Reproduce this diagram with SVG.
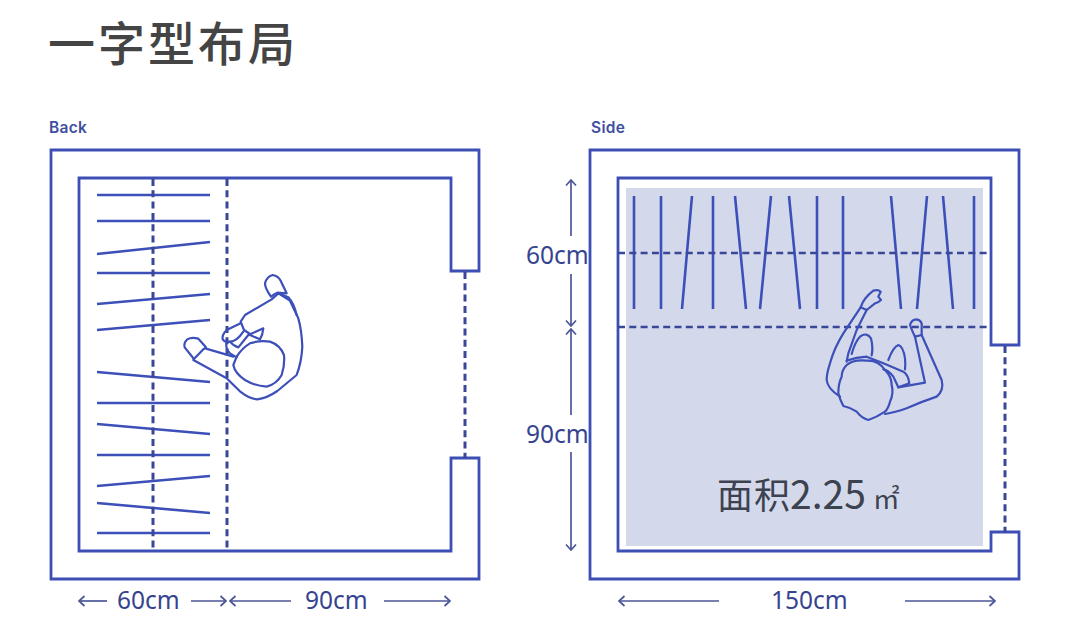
<svg xmlns="http://www.w3.org/2000/svg" width="1080" height="628" viewBox="0 0 1080 628">
<style>
.wall{fill:none;stroke:#3d4fb4;stroke-width:2.8;stroke-linejoin:miter}
.tile{fill:none;stroke:#3d4fb8;stroke-width:2.6;stroke-linecap:butt}
.dash{fill:none;stroke:#3a4799;stroke-width:3;stroke-dasharray:7 4.3}
.dashh{fill:none;stroke:#3a4799;stroke-width:2.4;stroke-dasharray:7 4.3}
.dim{fill:none;stroke:#4b5699;stroke-width:1.7;marker-end:url(#arr)}
.fig{fill:none;stroke:#3d4fb8;stroke-width:6.6;stroke-linejoin:round;stroke-linecap:round}
.lbl{font-family:"Noto Sans","Noto Sans CJK SC",sans-serif;font-size:24.5px;fill:#36448f}
.cap{font-family:Inter,"Liberation Sans",sans-serif;font-size:15.5px;font-weight:600;letter-spacing:.3px;fill:#3f4f9f}
</style>
<defs>
<marker id="arr" viewBox="0 0 10 12" refX="9" refY="6" markerWidth="10" markerHeight="12" markerUnits="userSpaceOnUse" orient="auto">
<path d="M3.5 1 L9 6 L3.5 11" fill="none" stroke="#4b5699" stroke-width="1.7"/>
</marker>
</defs>
<rect width="1080" height="628" fill="#fff"/>
<text x="48" y="61" font-family="'Noto Sans CJK SC',sans-serif" font-size="47" font-weight="500" letter-spacing="3" fill="#444">一字型布局</text>

<g id="back-plan">
<text class="cap" x="49" y="133">Back</text>
<path class="wall" d="M479 271V150H51V579H479V458H451V551H79V178H451V271Z"/>
<path class="tile" d="M97 195H210M97 221H210M97 254L210 242M97 273H210M97 304L210 294M97 330L210 320M97 372L210 382M97 403H210M97 424L210 434M97 455H210M97 486L210 476M97 503L210 513M97 533H210"/>
<path class="dash" d="M153 179V551M227 179V551M465 272V458"/>
<g id="person-back" class="fig" transform="translate(170 260) scale(.3333)">
<path d="M108 266L190 290M70 300L170 355Q190 375 212 396Q240 418 262 418Q290 415 322 393L380 345Q395 305 397 260Q395 210 385 175L360 122L325 100L305 118L225 165L212 185L222 210L240 222"/>
<path d="M72 297L100 268L108 262L85 236Q65 230 52 238Q40 250 44 262Z"/>
<path d="M200 290Q215 265 240 250Q270 240 300 245Q330 255 342 285Q345 315 335 345Q320 372 290 380Q255 378 225 360Q195 340 190 315Z"/>
<path d="M303 110Q285 85 285 70Q290 50 308 45Q325 48 332 62L350 100L322 98Q310 103 303 110Z"/>
<path d="M325 100L355 112Q372 130 380 165"/>
<path d="M212 190L170 210Q155 225 158 238Q165 248 180 245Q200 245 220 215"/>
<path d="M170 245Q165 265 180 280L200 292M180 245Q190 258 205 262L235 225L280 205Q278 225 270 238L240 225"/>
</g>
</g>

<g id="side-plan">
<text class="cap" x="591" y="133">Side</text>
<rect x="626" y="188" width="357" height="358" fill="#d3d9eb"/>
<path class="wall" d="M1019 345V150H590V579H1019V532H991V551H618V178H991V345Z"/>
<path class="tile" d="M634 196V309M661 196V309M692 196L682 309M713 196V309M735 196L746 309M771 196L760 309M789 196L800 309M817 196V309M843 196V309M891 196L901 309M927 196L917 309M943 196L953 309M974 196V309"/>
<path class="dashh" d="M618 253H991M618 327H991"/>
<path class="dash" d="M1005 346V532"/>
<g id="person-side" class="fig" transform="translate(810 280) scale(.3333)">
<path d="M152 82Q160 55 190 32Q205 28 212 35L205 50L213 60Q205 68 195 70L170 90Z"/>
<path d="M152 82L100 160Q72 205 60 250Q50 280 50 300Q52 325 90 350M170 90L140 150L115 220L110 245"/>
<path d="M110 255Q130 238 170 242Q205 240 225 270Q245 290 245 315Q252 340 240 365Q235 385 225 395Q200 412 175 420Q155 415 140 395Q120 382 100 378Q90 360 85 340Q85 310 95 290Q95 270 110 255Z"/>
<path d="M125 222Q135 185 150 170Q170 155 183 175Q190 205 185 226M235 240Q250 200 265 195Q280 200 285 235Q287 255 285 268"/>
<path d="M110 242Q140 232 170 230L220 250L280 275Q295 285 298 310L265 322L250 290Q235 270 220 268"/>
<path d="M265 322L345 308L315 170L335 165L395 300Q403 330 380 350Q335 365 290 385Q255 398 225 402"/>
<path d="M315 170Q305 150 300 135Q305 118 320 118Q338 122 335 140L335 165"/>
</g>
<text x="717" y="509" font-family="'Noto Sans CJK SC',sans-serif" font-size="36" letter-spacing="1" fill="#3c4250">面积<tspan font-size="39" letter-spacing="0" dx="-1">2.25</tspan><tspan font-size="27" dx="7">㎡</tspan></text>
</g>

<g id="connectors">
<path class="dim" d="M107 601H79"/>
<path class="dim" d="M191 601H226"/>
<path class="dim" d="M291 601H230"/>
<path class="dim" d="M384 601H450"/>
<path class="dim" d="M719 601H619"/>
<path class="dim" d="M905 601H995"/>
<path class="dim" d="M571 236V180"/>
<path class="dim" d="M571 274V326"/>
<path class="dim" d="M571 415V329"/>
<path class="dim" d="M571 452V550"/>
</g>
<g id="labels">
<text class="lbl" x="117" y="609">60cm</text>
<text class="lbl" x="305" y="609">90cm</text>
<text class="lbl" x="771" y="609">150cm</text>
<text class="lbl" x="526" y="264">60cm</text>
<text class="lbl" x="526" y="443">90cm</text>
</g>
</svg>
